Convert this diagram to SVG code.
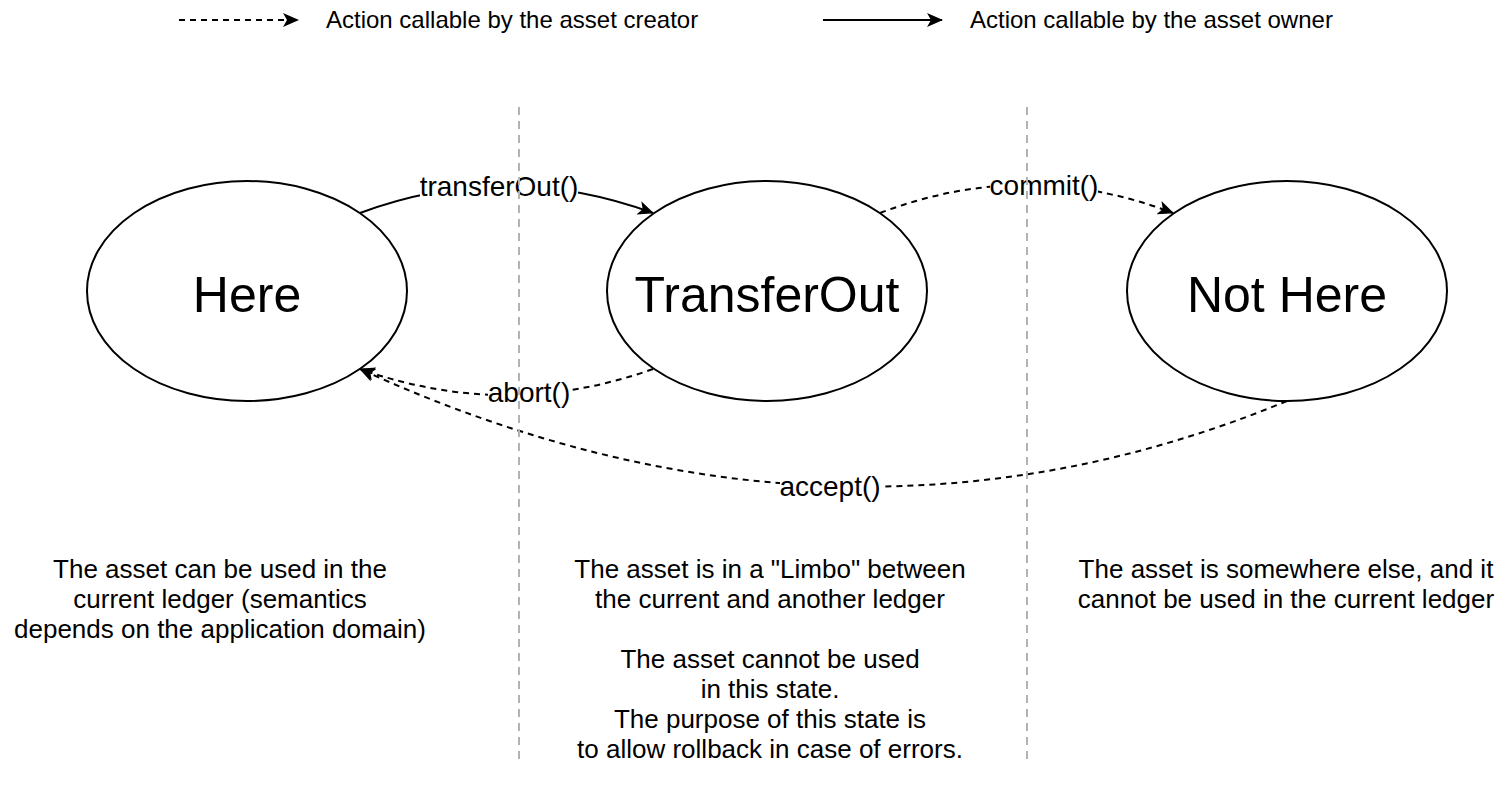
<svg xmlns="http://www.w3.org/2000/svg" width="1508" height="792" viewBox="0 0 1508 792">
<style>
text{font-family:"Liberation Sans",Arial,sans-serif;fill:#000}
.state{fill:#fff;stroke:#000;stroke-width:2}
.big{font-size:50px;text-anchor:middle}
.body{font-size:26px;text-anchor:middle}
.legend{font-size:24px}
.lbl{font-size:28px;text-anchor:middle}
.edge{fill:none;stroke:#000;stroke-width:2}
.dash{stroke-dasharray:6 5}
.sep{stroke:#b3b3b3;stroke-width:2;stroke-dasharray:8 6}
.bg{fill:#fff}
</style>
<defs>
<marker id="arr" markerUnits="userSpaceOnUse" viewBox="0 0 16 14" markerWidth="16" markerHeight="14" refX="15" refY="7" orient="auto">
<path d="M0,0 L16,7 L0,14 L4,7 z" fill="#000"/>
</marker>
</defs>
<g id="legend">
<line class="edge dash" x1="179" y1="20" x2="298" y2="20" marker-end="url(#arr)"/>
<text class="legend" x="326" y="28">Action callable by the asset creator</text>
<line class="edge" x1="823" y1="20" x2="942" y2="20" marker-end="url(#arr)"/>
<text class="legend" x="970" y="28">Action callable by the asset owner</text>
</g>
<g id="here"><ellipse class="state" cx="247" cy="291" rx="160" ry="110"/><text class="big" x="247" y="312">Here</text></g>
<g id="transferout"><ellipse class="state" cx="767" cy="291" rx="160" ry="110"/><text class="big" x="767" y="312">TransferOut</text></g>
<g id="nothere"><ellipse class="state" cx="1287" cy="291" rx="160" ry="110"/><text class="big" x="1287" y="312">Not Here</text></g>
<g id="connectors">
<path class="edge" d="M360,213 Q505,159 653,213" marker-end="url(#arr)"/>
<rect class="bg" x="420" y="172" width="158" height="28"/>
<text class="lbl" x="499" y="196">transferOut()</text>
<path class="edge dash" d="M880,213 Q1027,157 1173,213" marker-end="url(#arr)"/>
<rect class="bg" x="990" y="171" width="108" height="28"/>
<text class="lbl" x="1044" y="195">commit()</text>
<path class="edge dash" d="M653,369 Q507,421 360,369" marker-end="url(#arr)"/>
<rect class="bg" x="488" y="378" width="82" height="28"/>
<text class="lbl" x="529" y="402">abort()</text>
<path class="edge dash" d="M1287,401 Q836,587 360,369" marker-end="url(#arr)"/>
<rect class="bg" x="780" y="472" width="101" height="28"/>
<text class="lbl" x="830" y="496">accept()</text>
</g>
<g id="separators">
<line class="sep" x1="519" y1="107" x2="519" y2="761"/>
<line class="sep" x1="1027" y1="107" x2="1027" y2="761"/>
</g>
<g id="desc-here"><text class="body"><tspan x="220" y="578">The asset can be used in the</tspan><tspan x="220" y="608">current ledger (semantics</tspan><tspan x="220" y="638">depends on the application domain)</tspan></text></g>
<g id="desc-transferout"><text class="body"><tspan x="770" y="578">The asset is in a "Limbo" between</tspan><tspan x="770" y="608">the current and another ledger</tspan><tspan x="770" y="668">The asset cannot be used</tspan><tspan x="770" y="698">in this state.</tspan><tspan x="770" y="728">The purpose of this state is</tspan><tspan x="770" y="758">to allow rollback in case of errors.</tspan></text></g>
<g id="desc-nothere"><text class="body"><tspan x="1286" y="578">The asset is somewhere else, and it</tspan><tspan x="1286" y="608">cannot be used in the current ledger</tspan></text></g>
</svg>
